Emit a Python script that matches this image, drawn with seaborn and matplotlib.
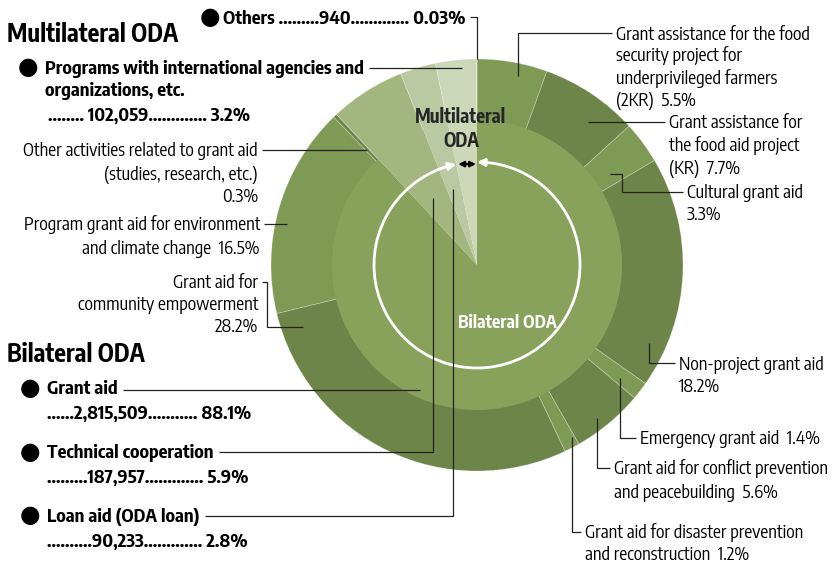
import numpy as np
import pandas as pd
import seaborn as sns
import matplotlib
matplotlib.use("Agg")
import matplotlib.pyplot as plt
from matplotlib import font_manager
from matplotlib.font_manager import FontProperties
from matplotlib.textpath import TextPath
from matplotlib.patches import Arc

# ---------------- data ----------------
outer_labels = ["2KR", "KR", "Cultural grant aid", "Non-project grant aid", "Emergency grant aid",
                "Conflict prevention", "Disaster prevention", "Community empowerment",
                "Environment and climate change", "Other activities",
                "Technical cooperation", "Loan aid", "Programs with international agencies", "Others"]
outer_values = [5.5, 7.7, 3.3, 18.2, 1.4, 5.6, 1.2, 28.2, 16.5, 0.3, 5.9, 2.8, 3.2, 0.03]

inner_labels = ["Grant aid", "Technical cooperation", "Loan aid", "Multilateral ODA"]
inner_values = [88.1, 5.9, 2.8, 3.23]

amount_labels = ["Grant aid", "Technical cooperation", "Loan aid", "Programs", "Others"]
amount_values = ["2,815,509", "187,957", "90,233", "102,059", "940"]
amount_shares = ["88.1%", "5.9%", "2.8%", "3.2%", "0.03%"]
AMT = dict(zip(amount_labels, amount_values))
SHR = dict(zip(amount_labels, amount_shares))

# ---------------- style ----------------
sns.set_theme(style="white")
avail = {f.name for f in font_manager.fontManager.ttflist}
cands = ["Fira Sans Extra Condensed", "Fira Sans Condensed", "PT Sans Narrow", "Roboto Condensed",
         "Asap Condensed", "Archivo Narrow", "Encode Sans Condensed", "Liberation Sans Narrow"]
cands = [c for c in cands if c in avail] or ["DejaVu Sans"]

def ratio(name):
    fp = FontProperties(family=name)
    w = TextPath((0, 0), "Grant assistance for the food", size=100, prop=fp).get_extents().width
    c = TextPath((0, 0), "H", size=100, prop=fp).get_extents().height
    return w / c

TARGET = 191 / 13.0
MAIN = min(cands, key=lambda n: abs(ratio(n) - TARGET))
FAM = [MAIN, "DejaVu Sans"]
plt.rcParams["font.family"] = FAM

GREEN_IN = "#88a25c"
GREEN_LT = "#7f9a55"
GREEN_DK = "#6e8549"
TECH = "#a3b680"
LOAN = "#bac9a1"
MULTI = "#ccd8b8"

outer_colors = [GREEN_LT, GREEN_DK] * 5 + [TECH, LOAN, MULTI, MULTI]
inner_colors = [GREEN_IN, TECH, LOAN, MULTI]

W, H = 835, 563
CX, CY = 477, 265          # pie centre (pixel, top-left origin)
R_OUT, R_IN, R_ARC = 206, 144, 103

fig = plt.figure(figsize=(W / 100, H / 100), dpi=100)
ax = fig.add_axes([0, 0, 1, 1])

def P(x, y):
    return x, H - y

ax.pie(outer_values, radius=R_OUT, center=P(CX, CY), startangle=90, counterclock=False,
       colors=outer_colors,
       wedgeprops=dict(width=R_OUT - R_IN, linewidth=0.6, edgecolor=(1, 1, 1, 0.28)))
ax.pie(inner_values, radius=R_IN + 1, center=P(CX, CY), startangle=90, counterclock=False,
       colors=inner_colors, wedgeprops=dict(linewidth=0))

ax.set_xlim(0, W)
ax.set_ylim(0, H)
ax.set_aspect("equal")
ax.axis("off")

renderer = fig.canvas.get_renderer()

def width_of(s, size, bold):
    t = ax.text(0, 0, s, fontsize=size, fontweight="bold" if bold else "normal", family=FAM)
    bb = t.get_window_extent(renderer=renderer)
    t.remove()
    return bb.width

def fit(pairs, bold):
    ks = [10.0 * target / width_of(s, 10.0, bold) for s, target in pairs]
    return float(np.mean(ks))

FS = fit([("Grant assistance for the food", 191), ("Grant aid for conflict prevention", 217),
          ("Other activities related to grant aid", 235)], False)
FSB = fit([("Programs with international agencies and", 320), ("Technical cooperation", 164)], True)
FST = fit([("Multilateral ODA", 170)], True)
FSM = fit([("Multilateral", 90)], True)
FSW = fit([("Bilateral ODA", 98)], True)

# white arc with arrows round the bilateral part
gap = inner_values[-1] / sum(inner_values) * 360.0
cx, cy = P(CX, CY)
theta_a = 90 + gap      # left end
theta_b = 90 + 360      # right end (12 o'clock)
ax.add_patch(Arc((cx, cy), 2 * R_ARC, 2 * R_ARC, theta1=theta_a + 2, theta2=theta_b - 2,
                 color="white", lw=2))
def ang_pt(t):
    return cx + R_ARC * np.cos(np.radians(t)), cy + R_ARC * np.sin(np.radians(t))
for end, start in ((theta_b, theta_b - 5), (theta_a, theta_a + 5)):
    ax.annotate("", xy=ang_pt(end), xytext=ang_pt(start),
                arrowprops=dict(arrowstyle="-|>", color="white", lw=2, mutation_scale=11,
                                shrinkA=0, shrinkB=0))
ya = ang_pt(theta_a)[1]
ax.annotate("", xy=(ang_pt(theta_a)[0] + 2, ya), xytext=(cx - 1, ya),
            arrowprops=dict(arrowstyle="<|-|>", color="black", lw=1.6, mutation_scale=8,
                            shrinkA=0, shrinkB=0))

# ---------------- text helpers ----------------
def T(x, cyy, s, ha="left", bold=False, color="black", size=None, cap=6.5):
    if size is None:
        size = FSB if bold else FS
    return ax.text(x, H - (cyy + cap), s, ha=ha, va="baseline", fontsize=size,
                   fontweight="bold" if bold else "normal", color=color, family=FAM)

def L(pts):
    xs = [p[0] for p in pts]
    ys = [H - p[1] for p in pts]
    ax.plot(xs, ys, color="#222222", lw=0.9, solid_capstyle="butt", solid_joinstyle="miter")

def bullet(x, cyy):
    ax.text(x, H - cyy, "\u25cf", ha="center", va="center", fontsize=17,
            family=["DejaVu Sans"], color="black")

def right_end(t):
    bb = t.get_window_extent(renderer=renderer)
    return ax.transData.inverted().transform((bb.x1, bb.y0))[0]

# titles
T(7, 34.5, "Multilateral ODA", bold=True, size=FST, cap=7.5)
T(7, 355, "Bilateral ODA", bold=True, size=FST, cap=7.5)

# multilateral legend
bullet(210, 17)
t = T(223, 17, "Others .........{}............. {}".format(AMT["Others"], SHR["Others"]), bold=True)
L([(right_end(t) + 4, 17), (CX, 17), (CX, CY - R_OUT)])

bullet(28, 67)
t = T(45, 67, "Programs with international agencies and", bold=True)
L([(right_end(t) + 5, 68), (462, 68)])
T(45, 90, "organizations, etc.", bold=True)
T(48, 115, "........ {}............. {}".format(AMT["Programs"], SHR["Programs"]), bold=True)

# bilateral legend
bullet(30, 388)
t = T(47, 388, "Grant aid", bold=True)
L([(right_end(t) + 5, 390), (420, 390)])
T(47, 412, "......{}........... {}".format(AMT["Grant aid"], SHR["Grant aid"]), bold=True)

bullet(30, 452)
t = T(47, 452, "Technical cooperation", bold=True)
L([(right_end(t) + 5, 452), (433, 452), (433, 198)])
T(47, 477, ".........{}............. {}".format(AMT["Technical cooperation"], SHR["Technical cooperation"]), bold=True)

bullet(30, 515)
t = T(47, 515, "Loan aid (ODA loan)", bold=True)
L([(right_end(t) + 5, 516), (453, 516), (453, 189)])
T(47, 540, "..........{}............. {}".format(AMT["Loan aid"], SHR["Loan aid"]), bold=True)

# right-side labels
def lines(x, ys, texts, ha="left"):
    for yy, s in zip(ys, texts):
        T(x, yy, s, ha=ha)

lines(616, [33, 55, 78, 100], ["Grant assistance for the food", "security project for",
                               "underprivileged farmers", "(2KR)  {}%".format(outer_values[0])])
L([(612, 33), (518, 33), (518, 76)])

lines(669, [122, 145, 167], ["Grant assistance for", "the food aid project",
                             "(KR)  {}%".format(outer_values[1])])
L([(665, 122), (588, 122)])

lines(687, [192, 213], ["Cultural grant aid", "{}%".format(outer_values[2])])
L([(683, 192), (622, 192), (622, 174), (610, 174)])

lines(679, [363, 385], ["Non-project grant aid", "{}%".format(outer_values[3])])
L([(675, 363), (649, 363), (649, 343)])

lines(640, [438], ["Emergency grant aid  {}%".format(outer_values[4])])
L([(636, 438), (620, 438), (620, 378)])

lines(614, [468, 491], ["Grant aid for conflict prevention",
                        "and peacebuilding  {}%".format(outer_values[5])])
L([(610, 468), (597, 468), (597, 418)])

lines(585, [532, 553], ["Grant aid for disaster prevention",
                        "and reconstruction  {}%".format(outer_values[6])])
L([(581, 532), (572, 532), (572, 437)])

# left-side labels
lines(258, [150, 173, 195], ["Other activities related to grant aid", "(studies, research, etc.)",
                             "{}%".format(outer_values[9])], ha="right")
L([(262, 150), (367, 150)])

lines(260, [224, 247], ["Program grant aid for environment",
                        "and climate change  {}%".format(outer_values[8])], ha="right")
L([(264, 224), (287, 224)])

lines(258, [282, 304, 326], ["Grant aid for", "community empowerment",
                             "{}%".format(outer_values[7])], ha="right")
L([(262, 282), (267, 282), (267, 327), (303, 327)])

# centre labels
ax.text(461, H - 123, "Multilateral", ha="center", va="baseline", fontsize=FSM,
        fontweight="bold", family=FAM)
ax.text(461, H - 147, "ODA", ha="center", va="baseline", fontsize=FSM, fontweight="bold",
        family=FAM)
ax.text(507, H - 328, "Bilateral ODA", ha="center", va="baseline", fontsize=FSW,
        fontweight="bold", color="white", family=FAM)

fig.savefig("out.png", dpi=100)
